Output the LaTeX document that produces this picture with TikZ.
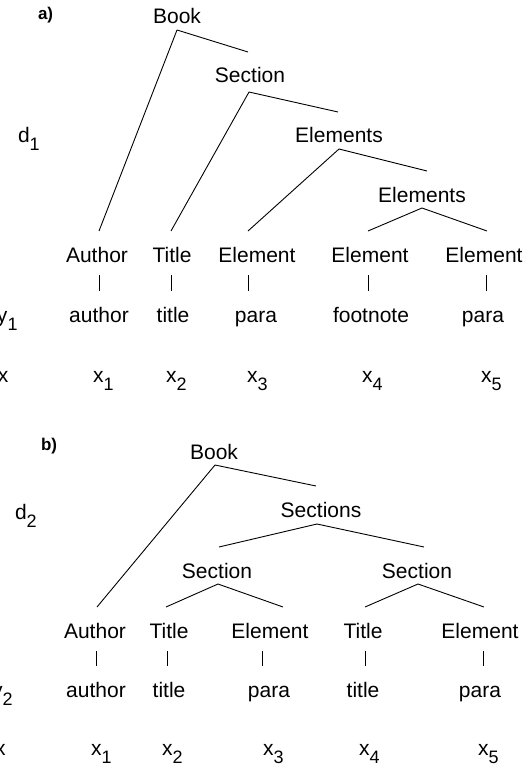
\documentclass[tikz,border=0pt]{standalone}
\usepackage{fontspec}
\setmainfont{Liberation Sans}
\newcommand{\sbs}[1]{\raisebox{-8pt}{\fontsize{18pt}{18pt}\selectfont #1}}
\tikzset{
  lbl/.style={font=\fontsize{21pt}{21pt}\selectfont, inner sep=0pt, outer sep=0pt, anchor=base},
  tnode/.style={lbl, text height=25pt, text depth=0pt, inner ysep=6pt, inner xsep=0pt},
  side/.style={lbl, anchor=base west},
  panel/.style={side, font=\bfseries\fontsize{17pt}{17pt}\selectfont},
  conn/.style={draw=black, line width=0.9pt},
  vconn/.style={conn, shorten <=7pt}
}
\begin{document}
\begin{tikzpicture}[x=1pt,y=-1pt]
\useasboundingbox (0,0) rectangle (526,770);
% ---------------- a) ----------------
\node[panel] (pa) at (38,20) {a)};
\node[side] (d1) at (18,143) {d\sbs{1}};
\node[side] (y1) at (-3,322) {y\sbs{1}};
\node[side] (xa) at (-2,382) {x};

\node[tnode] (bookA) at (177,24) {Book};
\node[tnode] (secA) at (250,83) {Section};
\node[tnode] (elsA) at (339,143) {Elements};
\node[tnode] (els2A) at (422,202) {Elements};

\node[tnode] (authA) at (97,262) {Author};
\node[tnode] (titA) at (172,262) {Title};
\node[tnode] (elA1) at (257,262) {Element};
\node[tnode] (elA2) at (370,262) {Element};
\node[tnode] (elA3) at (484,262) {Element};

\node[tnode] (lauthA) at (99,322) {author};
\node[tnode] (ltitA) at (173,322) {title};
\node[tnode] (lparaA1) at (256,322) {para};
\node[tnode] (lfootA) at (371,322) {footnote};
\node[tnode] (lparaA2) at (483,322) {para};

\node[side] (xa1) at (93,382) {x\sbs{1}};
\node[side] (xa2) at (166,382) {x\sbs{2}};
\node[side] (xa3) at (247,382) {x\sbs{3}};
\node[side] (xa4) at (362,382) {x\sbs{4}};
\node[side] (xa5) at (481,382) {x\sbs{5}};

\draw[conn] (bookA.south) -- ([xshift=2pt]authA.north);
\draw[conn] (bookA.south) -- ([xshift=-2pt]secA.north);
\draw[conn] ([xshift=-1pt,yshift=-3pt]secA.south) -- ([xshift=-1pt]titA.north);
\draw[conn] ([xshift=-1pt,yshift=-3pt]secA.south) -- ([xshift=-1pt]elsA.north);
\draw[conn] (elsA.south) -- ([xshift=-9pt]elA1.north);
\draw[conn] (elsA.south) -- ([xshift=5pt]els2A.north);
\draw[conn] (els2A.south) -- ([xshift=-2pt]elA2.north);
\draw[conn] (els2A.south) -- ([xshift=3pt]elA3.north);

\draw[vconn] ([xshift=2pt]authA.south) -- (lauthA.north);
\draw[vconn] ([xshift=-1pt]titA.south) -- ([xshift=-2pt]ltitA.north);
\draw[vconn] ([xshift=-9pt]elA1.south) -- ([xshift=-8pt]lparaA1.north);
\draw[vconn] ([xshift=-2pt]elA2.south) -- ([xshift=-3pt]lfootA.north);
\draw[vconn] ([xshift=2pt]elA3.south) -- ([xshift=3pt]lparaA2.north);

% ---------------- b) ----------------
\node[panel] (pb) at (41,450) {b)};
\node[side] (d2) at (15,519) {d\sbs{2}};
\node[side] (y2) at (-8,697) {y\sbs{2}};
\node[side] (xb) at (-5,755) {x};

\node[tnode] (bookB) at (214,459) {Book};
\node[tnode] (secsB) at (321,517) {Sections};
\node[tnode] (secLB) at (217,578) {Section};
\node[tnode] (secRB) at (417,578) {Section};

\node[tnode] (authB) at (95,638) {Author};
\node[tnode] (titB1) at (169,638) {Title};
\node[tnode] (elB1) at (270,638) {Element};
\node[tnode] (titB2) at (363,638) {Title};
\node[tnode] (elB2) at (480,638) {Element};

\node[tnode] (lauthB) at (96,697) {author};
\node[tnode] (ltitB1) at (169,697) {title};
\node[tnode] (lparaB1) at (269,697) {para};
\node[tnode] (ltitB2) at (363,697) {title};
\node[tnode] (lparaB2) at (480,697) {para};

\node[side] (xb1) at (91,755) {x\sbs{1}};
\node[side] (xb2) at (162,755) {x\sbs{2}};
\node[side] (xb3) at (263,755) {x\sbs{3}};
\node[side] (xb4) at (359,755) {x\sbs{4}};
\node[side] (xb5) at (478,755) {x\sbs{5}};

\draw[conn] ([xshift=1pt]bookB.south) -- ([xshift=2pt]authB.north);
\draw[conn] ([xshift=1pt]bookB.south) -- ([xshift=-5pt]secsB.north);
\draw[conn] ([xshift=-4pt,yshift=-1pt]secsB.south) -- ([xshift=2pt]secLB.north);
\draw[conn] ([xshift=-4pt,yshift=-1pt]secsB.south) -- ([xshift=7pt]secRB.north);
\draw[conn] ([xshift=1pt]secLB.south) -- ([xshift=-3pt]titB1.north);
\draw[conn] ([xshift=1pt]secLB.south) -- ([xshift=13pt]elB1.north);
\draw[conn] ([xshift=1pt]secRB.south) -- ([xshift=2pt]titB2.north);
\draw[conn] ([xshift=1pt]secRB.south) -- ([xshift=4pt]elB2.north);

\draw[vconn] ([xshift=1pt]authB.south) -- (lauthB.north);
\draw[vconn] ([xshift=-2pt]titB1.south) -- ([xshift=-2pt]ltitB1.north);
\draw[vconn] ([xshift=-8pt]elB1.south) -- ([xshift=-7pt]lparaB1.north);
\draw[vconn] ([xshift=2pt]titB2.south) -- ([xshift=2pt]ltitB2.north);
\draw[vconn] ([xshift=3pt]elB2.south) -- ([xshift=3pt]lparaB2.north);
\end{tikzpicture}
\end{document}
